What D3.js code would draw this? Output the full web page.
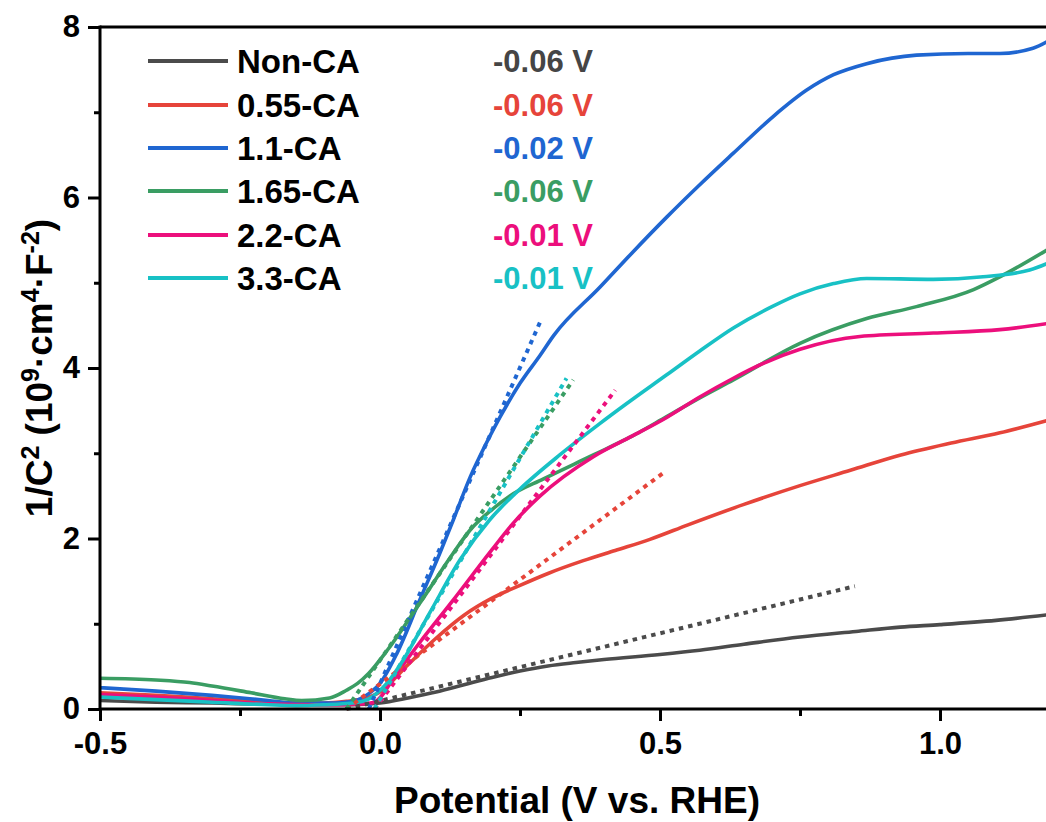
<!DOCTYPE html>
<html>
<head>
<meta charset="utf-8">
<script src="https://cdn.jsdelivr.net/npm/d3@7"></script>
<style>
  html, body { margin: 0; padding: 0; background: #fff; }
  svg { display: block; font-family: "Liberation Sans", Arial, sans-serif; font-weight: bold; }
</style>
</head>
<body>
<svg id="chart" width="1046" height="822"></svg>
<script>
// ---------------- DATA ----------------
const seriesNames = ["Non-CA", "0.55-CA", "1.1-CA", "1.65-CA", "2.2-CA", "3.3-CA"];
const seriesColors = ["#4b4b4b", "#e6443a", "#1f66d1", "#3a9d63", "#ec0f7c", "#18c1c5"];
const flatBand = [-0.06, -0.06, -0.02, -0.06, -0.01, -0.01];   // annotated values (V), fit x-intercepts
const flatBandLabels = ["-0.06 V", "-0.06 V", "-0.02 V", "-0.06 V", "-0.01 V", "-0.01 V"];
// end points of the Mott-Schottky linear fits [x, y]
const fitEnds = [[0.848, 1.44], [0.506, 2.77], [0.286, 4.54], [0.345, 3.86], [0.42, 3.74], [0.333, 3.88]];

const nonCA = [[-0.5,0.10],[-0.4,0.08],[-0.3,0.07],[-0.2,0.055],[-0.1,0.05],[-0.05,0.05],[0,0.07],[0.05,0.13],[0.1,0.2],[0.15,0.285],[0.2,0.37],[0.25,0.445],[0.3,0.505],[0.35,0.545],[0.4,0.58],[0.5,0.64],[0.571,0.69],[0.65,0.76],[0.75,0.845],[0.85,0.91],[0.929,0.96],[1.0,0.99],[1.1,1.04],[1.2,1.11]];
const ca055 = [[-0.5,0.19],[-0.4,0.16],[-0.3,0.12],[-0.2,0.08],[-0.15,0.07],[-0.1,0.07],[-0.06,0.09],[-0.03,0.12],[0,0.2],[0.05,0.52],[0.1,0.83],[0.15,1.1],[0.2,1.3],[0.25,1.45],[0.3,1.59],[0.363,1.74],[0.42,1.86],[0.482,1.99],[0.55,2.16],[0.65,2.4],[0.75,2.62],[0.84,2.8],[0.93,2.98],[1.02,3.12],[1.107,3.24],[1.2,3.4]];
const ca11 = [[-0.5,0.25],[-0.4,0.21],[-0.3,0.16],[-0.2,0.1],[-0.15,0.07],[-0.1,0.07],[-0.06,0.08],[-0.048,0.09],[-0.02,0.18],[0,0.3],[0.03,0.65],[0.071,1.28],[0.107,1.83],[0.131,2.22],[0.161,2.72],[0.19,3.12],[0.214,3.42],[0.25,3.82],[0.286,4.15],[0.31,4.38],[0.393,4.95],[0.45,5.35],[0.512,5.77],[0.571,6.15],[0.631,6.52],[0.702,6.95],[0.762,7.26],[0.81,7.44],[0.869,7.57],[0.958,7.67],[1.05,7.69],[1.107,7.69],[1.166,7.75],[1.2,7.86]];
const ca165 = [[-0.5,0.36],[-0.4,0.34],[-0.34,0.31],[-0.3,0.27],[-0.23,0.19],[-0.17,0.12],[-0.14,0.1],[-0.09,0.13],[-0.06,0.22],[-0.04,0.3],[-0.02,0.42],[0.012,0.68],[0.071,1.24],[0.131,1.83],[0.161,2.1],[0.2,2.34],[0.232,2.5],[0.292,2.7],[0.381,2.98],[0.45,3.2],[0.512,3.43],[0.571,3.65],[0.631,3.86],[0.75,4.29],[0.869,4.58],[0.958,4.72],[1.06,4.92],[1.107,5.07],[1.2,5.42]];
const ca22 = [[-0.5,0.17],[-0.4,0.14],[-0.3,0.1],[-0.2,0.06],[-0.1,0.05],[-0.03,0.06],[-0.01,0.08],[0.03,0.42],[0.071,0.78],[0.131,1.28],[0.2,1.87],[0.238,2.18],[0.286,2.5],[0.381,2.96],[0.45,3.2],[0.512,3.42],[0.571,3.66],[0.631,3.88],[0.69,4.07],[0.75,4.22],[0.857,4.37],[0.988,4.41],[1.107,4.45],[1.2,4.53]];
const ca33 = [[-0.5,0.14],[-0.4,0.11],[-0.3,0.08],[-0.2,0.05],[-0.15,0.04],[-0.1,0.05],[-0.05,0.07],[-0.02,0.12],[0.012,0.3],[0.041,0.57],[0.089,1.13],[0.143,1.75],[0.196,2.22],[0.25,2.58],[0.321,2.98],[0.393,3.35],[0.44,3.58],[0.512,3.92],[0.571,4.2],[0.631,4.47],[0.7,4.72],[0.75,4.87],[0.81,4.99],[0.869,5.05],[0.988,5.04],[1.077,5.07],[1.16,5.15],[1.2,5.25]];

const seriesData = [nonCA, ca055, ca11, ca165, ca22, ca33];

const xTicksMajor = [-0.5, 0.0, 0.5, 1.0];
const xTicksMinor = [-0.25, 0.25, 0.75];
const yTicksMajor = [0, 2, 4, 6, 8];
const yTicksMinor = [1, 3, 5, 7];

// ---------------- LAYOUT ----------------
const W = 1046, H = 822;
const mLeft = 100, mTop = 27, mBottom = 709, mRight = 1046;
const svg = d3.select("#chart");

const x = d3.scaleLinear().domain([-0.5, 1.2]).range([mLeft, mLeft + 952]);
const y = d3.scaleLinear().domain([0, 8]).range([mBottom, mTop]);

svg.append("defs").append("clipPath").attr("id", "plotClip")
  .append("rect").attr("x", mLeft).attr("y", mTop).attr("width", mRight - mLeft).attr("height", mBottom - mTop + 6);

// ---------------- LINES ----------------
const line = d3.line().x(d => x(d[0])).y(d => y(d[1])).curve(d3.curveMonotoneX);
const plot = svg.append("g").attr("clip-path", "url(#plotClip)");

seriesData.forEach((data, i) => {
  plot.append("path").datum(data)
    .attr("d", line)
    .attr("fill", "none")
    .attr("stroke", seriesColors[i])
    .attr("stroke-width", 3.6)
    .attr("stroke-linejoin", "round");
});
seriesData.forEach((data, i) => {
  const fit = [[flatBand[i], 0], fitEnds[i]];
  plot.append("path").datum(fit)
    .attr("d", d3.line().x(d => x(d[0])).y(d => y(d[1])))
    .attr("fill", "none")
    .attr("stroke", seriesColors[i])
    .attr("stroke-width", 4)
    .attr("stroke-dasharray", "4.5,5");
});

// ---------------- AXES ----------------
const fmt = d => d.toFixed(1);
svg.append("g").attr("transform", `translate(0,${mBottom})`)
  .call(d3.axisBottom(x).tickValues(xTicksMajor).tickFormat(fmt).tickSize(12).tickPadding(11));
svg.append("g").attr("transform", `translate(0,${mBottom})`)
  .call(d3.axisBottom(x).tickValues(xTicksMinor).tickFormat("").tickSize(7));
svg.append("g").attr("transform", `translate(${mLeft},0)`)
  .call(d3.axisLeft(y).tickValues(yTicksMajor).tickFormat(d3.format("d")).tickSize(12).tickPadding(8));
svg.append("g").attr("transform", `translate(${mLeft},0)`)
  .call(d3.axisLeft(y).tickValues(yTicksMinor).tickFormat("").tickSize(6));

svg.selectAll(".domain").remove();
svg.selectAll(".tick line").attr("stroke", "#000").attr("stroke-width", 3);
svg.selectAll(".tick text").attr("fill", "#000").style("font-size", "31px").style("font-weight", "bold")
  .style("font-family", '"Liberation Sans", Arial, sans-serif');

// frame lines: left, bottom, top
svg.append("line").attr("x1", mLeft).attr("x2", mLeft).attr("y1", mTop - 1.5).attr("y2", mBottom + 1.5)
  .attr("stroke", "#000").attr("stroke-width", 3);
svg.append("line").attr("x1", mLeft).attr("x2", W).attr("y1", mBottom).attr("y2", mBottom)
  .attr("stroke", "#000").attr("stroke-width", 3);
svg.append("line").attr("x1", mLeft).attr("x2", W).attr("y1", mTop).attr("y2", mTop)
  .attr("stroke", "#000").attr("stroke-width", 3);

// axis titles
svg.append("text").attr("x", 577).attr("y", 813).attr("text-anchor", "middle")
  .style("font-size", "37px").text("Potential (V vs. RHE)");

const yt = svg.append("text").attr("transform", "translate(52,368) rotate(-90)")
  .attr("text-anchor", "middle").style("font-size", "37px");
const sup = (t) => { yt.append("tspan").attr("dy", -13).style("font-size", "25px").text(t); };
const base = (t) => { yt.append("tspan").attr("dy", 13).text(t); };
yt.append("tspan").text("1/C");
sup("2"); base(" (10");
sup("9"); base("·cm");
sup("4"); base("·F");
sup("-2"); base(")");

// ---------------- LEGEND ----------------
const legendY = [61, 105, 148, 191, 235, 278];
seriesNames.forEach((name, i) => {
  const g = svg.append("g");
  g.append("line").attr("x1", 148).attr("x2", 228).attr("y1", legendY[i]).attr("y2", legendY[i])
    .attr("stroke", seriesColors[i]).attr("stroke-width", 4);
  g.append("text").attr("x", 237).attr("y", legendY[i] + 12).style("font-size", "33px").text(name);
  svg.append("text").attr("x", 493).attr("y", legendY[i] + 11).style("font-size", "31px")
    .attr("fill", i === 0 ? "#454545" : seriesColors[i]).text(flatBandLabels[i]);
});
</script>
</body>
</html>
